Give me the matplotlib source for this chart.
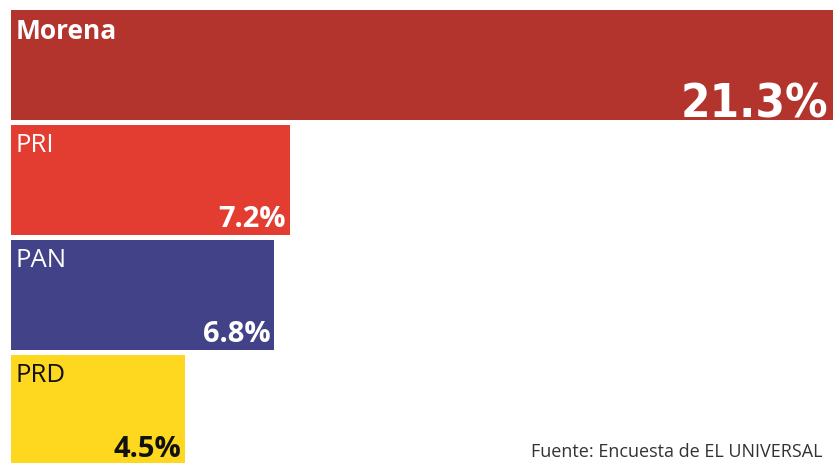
import matplotlib
matplotlib.use("Agg")
import matplotlib.pyplot as plt
from matplotlib import font_manager

parties = ["Morena", "PRI", "PAN", "PRD"]
values = [21.3, 7.2, 6.8, 4.5]
labels = ["21.3%", "7.2%", "6.8%", "4.5%"]
colors = ["#B3332D", "#E33C30", "#414287", "#FDD81E"]
text_colors = ["white", "white", "white", "#111111"]
source = "Fuente: Encuesta de EL UNIVERSAL"

# look for a narrow/condensed bold face for the big number
narrow_fp = None
for f in font_manager.fontManager.ttflist:
    tag = (f.name + " " + f.fname).lower()
    if ("narrow" in tag or "condensed" in tag or f.stretch in ("condensed", "semi-condensed")) \
            and (f.weight in ("bold", 700) or "bold" in f.fname.lower()) and "oblique" not in tag \
            and "italic" not in tag:
        narrow_fp = font_manager.FontProperties(fname=f.fname)
        break
if narrow_fp is None:
    narrow_fp = font_manager.FontProperties(family="DejaVu Sans", weight="bold", stretch="condensed")

fig = plt.figure(figsize=(8.33, 4.63), dpi=100)
ax = fig.add_axes([0, 0, 1, 1])
h = 0.96
ax.barh(range(len(values)), values, height=h, color=colors)
ax.set_xlim(-11 / 38.7, 822 / 38.7)
ax.set_ylim(-0.567 + 463 / 115, -0.567)
ax.axis("off")

px = 0.72  # points per pixel at dpi 100
for i, (p, v, lab) in enumerate(zip(parties, values, labels)):
    ax.annotate(p, xy=(0, i - h / 2), xytext=(5 * px, -8 * px), textcoords="offset points",
                ha="left", va="top", color=text_colors[i], family="Open Sans",
                fontsize=19 if i == 0 else 18.5, fontweight="bold" if i == 0 else "normal",
                annotation_clip=False)
    if i == 0:
        big = ax.annotate(lab, xy=(v, i + h / 2), xytext=(-7 * px, 3 * px), textcoords="offset points",
                          ha="right", va="baseline", color="white", fontproperties=narrow_fp,
                          annotation_clip=False)
        big.set_fontsize(34)
    else:
        ax.annotate(lab, xy=(v, i + h / 2), xytext=(-4 * px, 8 * px), textcoords="offset points",
                    ha="right", va="baseline", color=text_colors[i], family="Open Sans",
                    fontsize=21, fontweight="bold", annotation_clip=False)

fig.text(531 / 833, 1 - 457 / 463, source, ha="left", va="baseline", color="#333333",
         family="Open Sans", fontsize=13)

fig.savefig("out.png", dpi=100)
